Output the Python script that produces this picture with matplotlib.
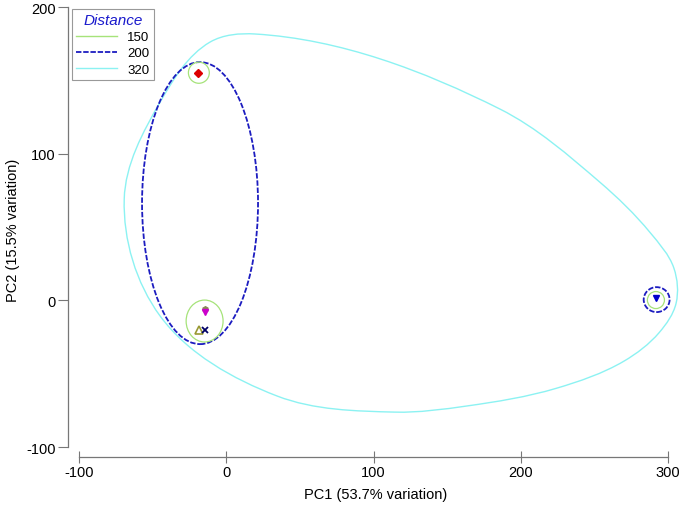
import numpy as np
import matplotlib
matplotlib.use("Agg")
import matplotlib.pyplot as plt
from matplotlib.patches import Ellipse, PathPatch
from matplotlib.path import Path
from matplotlib.lines import Line2D

plt.rcParams['font.family'] = ['Liberation Sans', 'DejaVu Sans']
plt.rcParams['axes.unicode_minus'] = False

# sample scores (PC1, PC2)
pt_x = [-19.1, -14.5, -14.5, -18.3, -14.5, 291.8]
pt_y = [155.0, -5.9, -7.9, -20.4, -20.4, 1.5]
pt_marker = ['D', 'h', 'v', '^', 'x', 'v']
pt_color = ['#dd0000', '#888855', '#cc00cc', '#999933', '#000066', '#0000cc']
pt_fill = [True, True, True, False, True, True]

# distance overlays: 150 and 200 as ellipses (cx, cy, w, h)
d150 = [(-18.7, 155.2, 14.2, 14.4), (-14.8, -14.1, 25.1, 28.6), (291.8, 0.2, 11.6, 11.6)]
d200 = [(-17.9, 66.3, 78.8, 192.3), (292.3, 0.5, 17.6, 17.0)]
# distance 320 outline (clockwise from top)
d320_x = [19.5, 185.9, 253.8, 287.7, 304.0, 305.5, 294.0, 270.0, 224.0, 163.5,
          114.6, 34.4, -45.0, -69.4, -45.0, -11.1]
d320_y = [181.6, 130.4, 80.5, 46.4, 22.0, -2.0, -22.0, -41.5, -60.0, -72.0,
          -76.2, -65.2, -10.7, 69.1, 135.2, 176.1]

x_ticks = [-100, 0, 100, 200, 300]
y_ticks = [-100, 0, 100, 200]

c150 = '#a6e37a'
c200 = '#1c1cc0'
c320 = '#8cf2f2'


def closed_curve(xs, ys):
    # smooth closed outline through the points, drawn as cubic beziers
    p = np.column_stack([xs, ys])
    n = len(p)
    fwd = np.roll(p, -1, axis=0) - p
    seg = np.hypot(fwd[:, 0], fwd[:, 1])
    unit = fwd / seg[:, None]
    tang = unit + np.roll(unit, 1, axis=0)
    tang = tang / np.hypot(tang[:, 0], tang[:, 1])[:, None]
    verts = [p[0]]
    codes = [Path.MOVETO]
    for i in range(n):
        j = (i + 1) % n
        verts += [p[i] + tang[i] * seg[i] / 3, p[j] - tang[j] * seg[i] / 3, p[j]]
        codes += [Path.CURVE4] * 3
    return Path(verts, codes)


fig = plt.figure(figsize=(6.85, 5.1), dpi=100)
ax = fig.add_axes([68 / 685, 52 / 510, 615 / 685, 456 / 510])
ax.set_xlim(-107.6, 310.2)
ax.set_ylim(-106.8, 204.1)

ax.add_patch(PathPatch(closed_curve(d320_x, d320_y), fill=False, ec=c320, lw=1.0))
for cx, cy, w, h in d200:
    ax.add_patch(Ellipse((cx, cy), w, h, fill=False, ec=c200, lw=1.3, ls=(0, (3, 1))))
for cx, cy, w, h in d150:
    ax.add_patch(Ellipse((cx, cy), w, h, fill=False, ec=c150, lw=0.9))

for x, y, m, c, f in zip(pt_x, pt_y, pt_marker, pt_color, pt_fill):
    if m == 'x':
        ax.plot(x, y, marker=m, color=c, ms=4.5, mew=1.3, ls='none')
    elif f:
        ax.plot(x, y, marker=m, color=c, ms=4, mec=c, ls='none')
    else:
        ax.plot(x, y, marker=m, mfc='none', mec=c, ms=5.5, mew=1.2, ls='none')

for s in ['top', 'right']:
    ax.spines[s].set_visible(False)
ax.spines['left'].set_bounds(-100, 200)
ax.spines['bottom'].set_bounds(-100, 300)
for s in ['left', 'bottom']:
    ax.spines[s].set_color('#777777')
    ax.spines[s].set_linewidth(0.9)

ax.set_xticks(x_ticks)
ax.set_yticks(y_ticks)
ax.tick_params(axis='y', direction='out', length=7, color='#777777', labelsize=10.5, pad=2)
ax.tick_params(axis='x', direction='inout', length=9, color='#777777', labelsize=10.5, pad=1)
ax.set_xlabel('PC1 (53.7% variation)', fontsize=10.5, labelpad=6)
ax.set_ylabel('PC2 (15.5% variation)', fontsize=10.5, labelpad=4)

handles = [Line2D([], [], color=c150, lw=1.0),
           Line2D([], [], color=c200, lw=1.3, ls=(0, (3, 1))),
           Line2D([], [], color=c320, lw=1.0)]
leg = ax.legend(handles, ['150', '200', '320'], title='Distance',
                loc='upper left', bbox_to_anchor=(72 / 685, 1 - 10 / 510),
                bbox_transform=fig.transFigure, borderaxespad=0, fancybox=False,
                framealpha=1, edgecolor='#999999', fontsize=9.5, handlelength=3.1,
                handletextpad=0.8, borderpad=0.3, labelspacing=0.3,
                alignment='center')
leg.get_title().set_color('#1a1acc')
leg.get_title().set_fontstyle('italic')
leg.get_title().set_fontsize(11)
leg.get_frame().set_linewidth(0.8)

fig.savefig('out.png', dpi=100)
